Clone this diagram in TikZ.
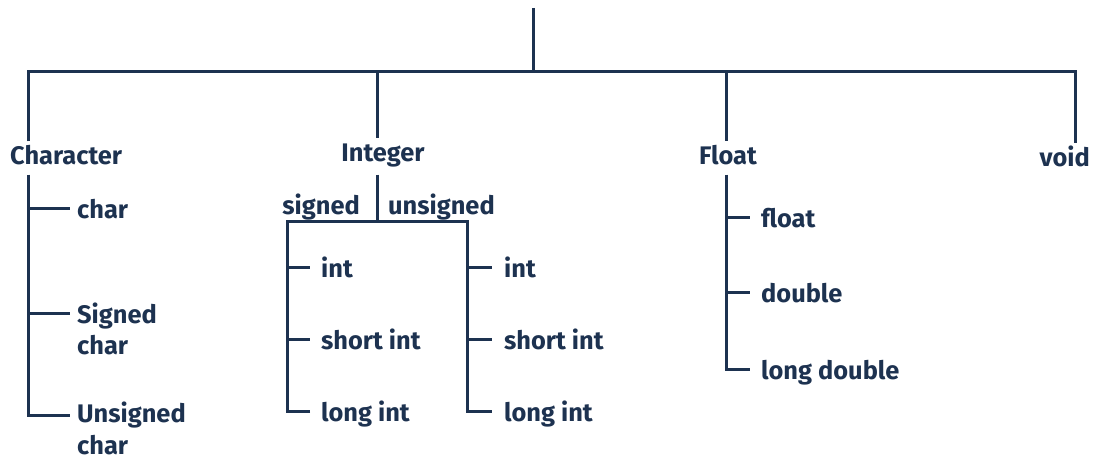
\documentclass[tikz,border=0pt]{standalone}
\usepackage{fontspec}
\setmainfont{Fira Sans}
\definecolor{navy}{HTML}{1D3250}
\begin{document}
\begin{tikzpicture}[x=1bp,y=-1bp,
  lbl/.style={font=\fontsize{25.5}{33}\selectfont\bfseries, text=navy, inner sep=2bp, text height=21bp, text depth=2bp},
  mlbl/.style={font=\fontsize{25.5}{32}\selectfont\bfseries, text=navy, inner sep=0bp, align=left, anchor=base west},
  ln/.style={draw=navy, line width=3bp}]
\useasboundingbox (0,0) rectangle (1095,461);
% coordinates of branch lines
\coordinate (rootT) at (533,8);
\coordinate (rootB) at (533,72);
\coordinate (cx) at (28,72);
\coordinate (ix) at (377,72);
\coordinate (fx) at (726,72);
\coordinate (vx) at (1075,72);
\coordinate (bl) at (287,222);
\coordinate (br) at (467,222);
% main categories
\node[lbl, anchor=west] (character) at (8,155) {Character};
\node[lbl] (integer) at (383,152) {Integer};
\node[lbl] (float) at (728,155) {Float};
\node[lbl, anchor=east] (void) at (1092,157) {void};
% character children
\node[lbl, anchor=west] (char) at (75,209) {char};
\node[mlbl] (schar) at (77,355) {Signed\\char};
\node[mlbl] (uchar) at (77,454) {Unsigned\\char};
\coordinate (scharL) at (70,314);
\coordinate (ucharL) at (70,416);
% integer children
\node[lbl, anchor=east] (signed) at (362,205) {signed};
\node[lbl, anchor=west] (unsigned) at (386,205) {unsigned};
\node[lbl, anchor=west] (sint) at (319,268) {int};
\node[lbl, anchor=west] (sshort) at (319,340) {short int};
\node[lbl, anchor=west] (slong) at (319,412) {long int};
\node[lbl, anchor=west] (uint) at (502,268) {int};
\node[lbl, anchor=west] (ushort) at (502,340) {short int};
\node[lbl, anchor=west] (ulong) at (502,412) {long int};
% float children
\node[lbl, anchor=west] (ffloat) at (759,218) {float};
\node[lbl, anchor=west] (fdouble) at (759,293) {double};
\node[lbl, anchor=west] (fldouble) at (759,370) {long double};
% connectors
\draw[ln] (rootT) -- (rootB);
\draw[ln] (cx |- character.north) -- (cx) -- (vx) -- (vx |- void.north);
\draw[ln] (ix) -- (ix |- integer.north);
\draw[ln] (fx) -- (fx |- float.north);
% character subtree
\draw[ln, shorten <=6bp] (cx |- character.south) |- (ucharL);
\draw[ln, shorten >=5bp] (cx |- char) -- (char.west);
\draw[ln] (cx |- scharL) -- (scharL);
% integer subtree
\draw[ln, shorten <=9bp] (ix |- integer.south) -- (ix |- bl);
\draw[ln, shorten <=9bp, shorten >=10bp] (slong.west) -| (bl) -- (br) |- (ulong.west);
\draw[ln, shorten >=9bp] (bl |- sint) -- (sint.west);
\draw[ln, shorten >=9bp] (bl |- sshort) -- (sshort.west);
\draw[ln, shorten >=10bp] (br |- uint) -- (uint.west);
\draw[ln, shorten >=10bp] (br |- ushort) -- (ushort.west);
% float subtree
\draw[ln, shorten <=6bp, shorten >=9bp] (fx |- float.south) |- (fldouble.west);
\draw[ln, shorten >=9bp] (fx |- ffloat) -- (ffloat.west);
\draw[ln, shorten >=9bp] (fx |- fdouble) -- (fdouble.west);
\end{tikzpicture}
\end{document}
